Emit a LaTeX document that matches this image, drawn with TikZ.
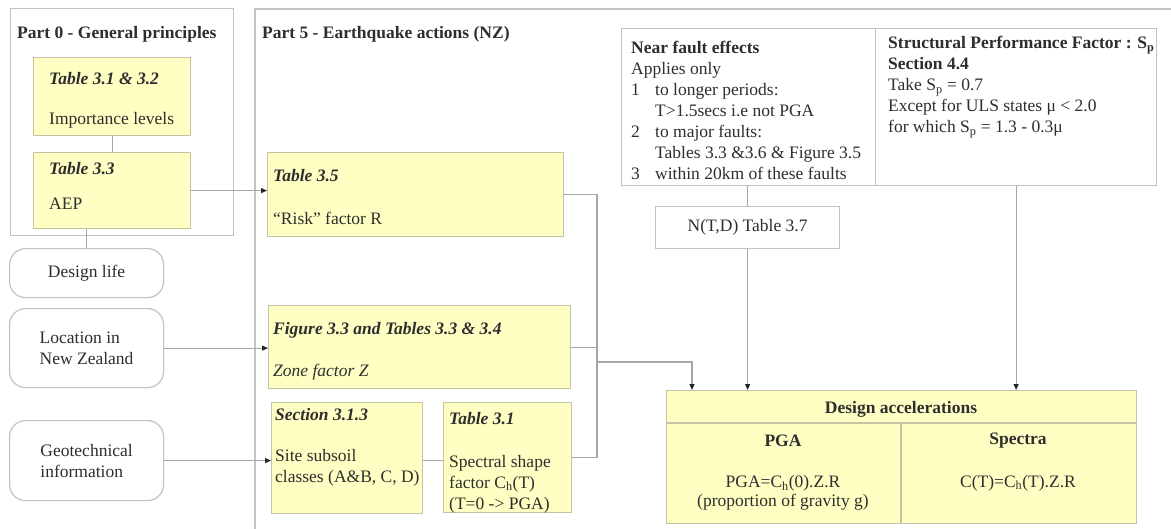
\documentclass[tikz,border=0pt]{standalone}
\usepackage{fontspec}
\setmainfont{Liberation Serif}
\usetikzlibrary{arrows.meta,calc}
\definecolor{ylw}{HTML}{FFFFC4}
\definecolor{bdr}{HTML}{C2C2C2}
\definecolor{ybdr}{HTML}{C4C4A4}
\definecolor{lnc}{HTML}{A6A6A6}
\definecolor{txt}{HTML}{2E2E2E}
\begin{document}
\begin{tikzpicture}[x=1pt,y=-1pt,
  font=\fontsize{17.5}{21}\selectfont, text=txt,
  frame/.style={draw=bdr, line width=1.2pt, anchor=north west, inner sep=0pt},
  ybox/.style={draw=ybdr, fill=ylw, line width=1.2pt, anchor=north west, inner sep=0pt},
  wbox/.style={draw=bdr, fill=white, line width=1.2pt, anchor=north west, inner sep=0pt},
  rbox/.style={draw=bdr, fill=white, line width=1.2pt, rounded corners=16pt, anchor=north west, inner sep=0pt, align=left},
  lbl/.style={anchor=north west, inner sep=0pt, align=left},
  ctr/.style={anchor=center, inner sep=0pt, align=center},
  bfnt/.style={font=\fontsize{17.5}{21}\selectfont\bfseries},
  conn/.style={draw=lnc, line width=1.2pt},
  arr/.style={conn, -{Triangle[length=6pt,width=5pt,color=black!85]}}
]
\fill[white] (0,0) rectangle (1171,528);
\useasboundingbox (0,0) rectangle (1171,528);

% ---- Part 0 frame
\node[frame, minimum width=223, minimum height=227] (p0) at (10,8) {};
\node[lbl, bfnt] (p0t) at (17,26) {Part 0 - General principles};

% ---- Part 5 frame (open to right and bottom)
\coordinate (p5bl) at (255,540);
\coordinate (p5tl) at (255,9);
\coordinate (p5tr) at (1180,9);
\draw[draw=bdr, line width=1.2pt] (p5bl) -- (p5tl) -- (p5tr);
\node[lbl, bfnt] (p5t) at (262,26) {Part 5 - Earthquake actions (NZ)};

% ---- Part 0 contents
\node[ybox, minimum width=157, minimum height=78] (t312) at (33,57) {};
\node[lbl] (t312t) at (49,72) {\textbf{\textit{Table 3.1 \& 3.2}}\\[19pt]Importance levels};
\node[ybox, minimum width=157, minimum height=76] (t33) at (33,152) {};
\node[lbl] (t33t) at (49,162) {\textbf{\textit{Table 3.3}}\\[14pt]AEP};

% ---- Inputs (rounded)
\node[rbox, minimum width=154, minimum height=49] (dl) at (9,248) {Design life};
\node[rbox, minimum width=154, minimum height=79] (loc) at (9,308) {Location in\\New Zealand};
\node[rbox, minimum width=154, minimum height=80] (geo) at (9,420) {Geotechnical\\information};

% ---- Part 5 contents
\node[ybox, minimum width=296, minimum height=84] (t35) at (267,152) {};
\node[lbl] (t35t) at (273,169) {\textbf{\textit{Table 3.5}}\\[22pt]“Risk” factor R};
\node[ybox, minimum width=302, minimum height=83] (zone) at (268,305) {};
\node[lbl] (zonet) at (273,322) {\textbf{\textit{Figure 3.3 and Tables 3.3 \& 3.4}}\\[21pt]\textit{Zone factor Z}};
\node[ybox, minimum width=151, minimum height=111] (sec) at (271,402) {};
\node[lbl] (sect) at (275,408) {\textbf{\textit{Section 3.1.3}}\\[20pt]Site subsoil\\classes (A\&B, C, D)};
\node[ybox, minimum width=128, minimum height=110] (t31) at (443,402) {};
\node[lbl] (t31t) at (449,412) {\textbf{\textit{Table 3.1}}\\[22pt]Spectral shape\\factor C\textsubscript{h}(T)\\(T=0 -> PGA)};

% ---- Near fault & SPF
\node[wbox, minimum width=254, minimum height=157] (nf) at (621,28) {};
\node[lbl] (nft) at (631,41) {\textbf{Near fault effects}\\Applies only\\
  \makebox[24pt][l]{1}to longer periods:\\
  \hspace*{24pt}T>1.5secs i.e not PGA\\
  \makebox[24pt][l]{2}to major faults:\\
  \hspace*{24pt}Tables 3.3 \&3.6 \& Figure 3.5\\
  \makebox[24pt][l]{3}within 20km of these faults};
\node[wbox, minimum width=281, minimum height=157] (spf) at (875,28) {};
\node[lbl] (spft) at (888,36) {\textbf{Structural Performance Factor : S\textsubscript{p}}\\\textbf{Section 4.4}\\
  Take S\textsubscript{p} = 0.7\\Except for ULS states μ < 2.0\\for which S\textsubscript{p} = 1.3 - 0.3μ};
\node[wbox, minimum width=184, minimum height=42] (ntd) at (655,206) {N(T,D) Table 3.7};

% ---- Design accelerations
\node[ybox, minimum width=470, minimum height=133] (des) at (666,390) {};
\coordinate (hl) at (666,423);
\coordinate (hr) at (1136,423);
\coordinate (dv) at (901,423);
\draw[draw=ybdr, line width=1.2pt] (hl) -- (hr);
\draw[draw=ybdr, line width=1.2pt] (dv) -- (dv |- des.south);
\node[ctr, bfnt] (dest) at (901,409) {Design accelerations};
\node[ctr, bfnt] (pgah) at (783,441) {PGA};
\node[ctr, font=\fontsize{17.5}{19}\selectfont] (pgaf) at (783,493) {PGA=C\textsubscript{h}(0).Z.R\\(proportion of gravity g)};
\node[ctr, bfnt] (sph) at (1018,441) {Spectra};
\node[ctr] (spf2) at (1018,483) {C(T)=C\textsubscript{h}(T).Z.R};

% ---- Connectors
\draw[conn] (t312.south) -- (t33.north);
\draw[arr] (t33.east) -- (t33.east -| t35.west);
\draw[conn] (dl.north) -- (dl.north |- t33.south);
\draw[arr] (loc.east) -- (loc.east -| zone.west);
\draw[arr] (geo.east) -- (geo.east -| sec.west);
\draw[conn] (geo.east -| sec.east) -- (geo.east -| t31.west);
\coordinate (J) at (597,362);
\coordinate (d1) at (692,390);
\draw[conn] (t35.east) -| (J);
\draw[conn] (zone.east) -- (zone.east -| J);
\draw[conn] (t31.east) -| (J);
\draw[arr] (J) -| (d1);
\draw[conn] (nf.south -| ntd.north) -- (ntd.north);
\draw[arr] (ntd.south) -- (ntd.south |- des.north);
\draw[arr] (spf.south) -- (spf.south |- des.north);
\end{tikzpicture}
\end{document}
